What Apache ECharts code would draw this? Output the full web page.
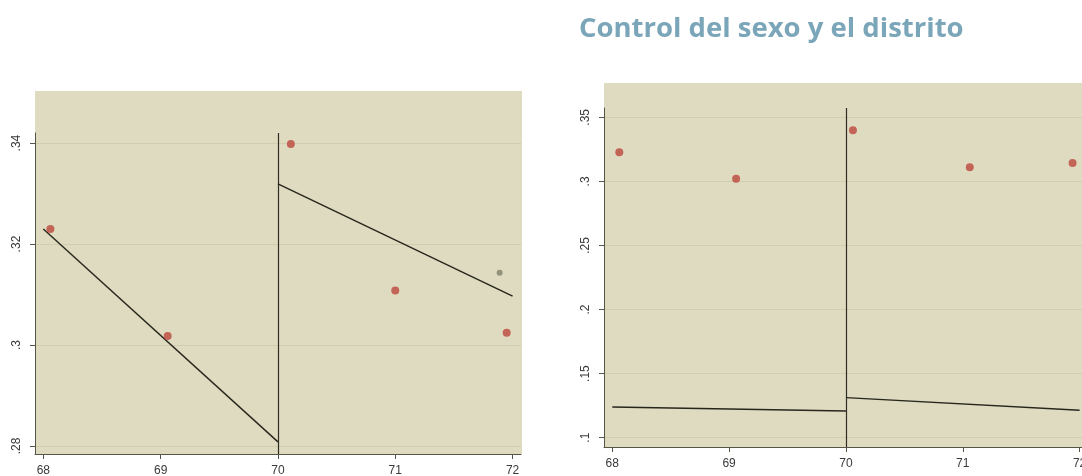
<!DOCTYPE html>
<html>
<head>
<meta charset="utf-8">
<script src="https://cdn.jsdelivr.net/npm/echarts@6/dist/echarts.min.js"></script>
<style>
  html, body { margin: 0; padding: 0; background: #ffffff; }
  #chart { width: 1082px; height: 476px; }
</style>
</head>
<body>
<div id="chart"></div>
<script>
// Age ticks shared by both panels
const xTicks = [68, 69, 70, 71, 72];
const cutoff = 70;

// Panel 1: unadjusted
const leftYTicks = [0.28, 0.30, 0.32, 0.34];
const leftPoints = [[68.06, 0.3230], [69.06, 0.3018], [70.11, 0.3398], [71.0, 0.3108], [71.95, 0.3024]];
const leftExtraPoint = [[71.89, 0.3143]];
const leftFitBefore = [[68, 0.3230], [70, 0.2808]];
const leftFitAfter = [[70, 0.3319], [72, 0.3097]];

// Panel 2: controlling for sex and district
const rightTitle = 'Control del sexo y el distrito';
const rightYTicks = [0.10, 0.15, 0.20, 0.25, 0.30, 0.35];
const rightPoints = [[68.06, 0.3227], [69.06, 0.3021], [70.06, 0.3399], [71.06, 0.3110], [71.94, 0.3143]];
const rightFitBefore = [[68, 0.1239], [70, 0.1208]];
const rightFitAfter = [[70, 0.1312], [72, 0.1214]];

const plotBg = '#dfdbc0';
const gridColor = '#d2cdae';
const axisColor = '#555548';
const labelColor = '#3a3a3a';
const dotColor = '#c0584a';
const fitColor = '#26261c';
const fontFamily = '"Liberation Sans", Arial, sans-serif';

const fmt = v => String(+(+v).toFixed(2)).replace(/^0\./, '.');

function makeX(gridIndex) {
  return {
    type: 'value', gridIndex,
    min: 67.929, max: 72.072,
    axisLine: { show: true, lineStyle: { color: axisColor, width: 1 } },
    axisTick: { show: true, length: 5, customValues: xTicks, lineStyle: { color: axisColor } },
    axisLabel: { customValues: xTicks, margin: 11, color: labelColor, fontSize: 12, fontFamily, formatter: v => String(v) },
    splitLine: { show: false }
  };
}

function makeY(gridIndex, min, max, ticks) {
  return {
    type: 'value', gridIndex, min, max,
    axisLine: { show: true, lineStyle: { color: axisColor, width: 1 } },
    axisTick: { show: true, length: 5, customValues: ticks, lineStyle: { color: axisColor } },
    axisLabel: { customValues: ticks, rotate: 90, margin: 12, color: labelColor, fontSize: 12, fontFamily, formatter: fmt },
    splitLine: { show: true, lineStyle: { color: gridColor, width: 1 } }
  };
}

function fitLine(data, xi, yi) {
  return {
    type: 'line', xAxisIndex: xi, yAxisIndex: yi, data,
    symbol: 'none', lineStyle: { color: fitColor, width: 1.4 }, z: 3, silent: true
  };
}

function dots(data, xi, yi, color, size) {
  return {
    type: 'scatter', xAxisIndex: xi, yAxisIndex: yi, data,
    symbolSize: size, itemStyle: { color, opacity: 0.9 }, z: 4, silent: true
  };
}

function cutoffLine(xi, yi) {
  return {
    type: 'line', xAxisIndex: xi, yAxisIndex: yi, data: [],
    markLine: {
      silent: true, symbol: 'none', label: { show: false },
      lineStyle: { color: '#2e2e26', width: 1.2, type: 'solid' },
      data: [{ xAxis: cutoff }]
    }
  };
}

const chart = echarts.init(document.getElementById('chart'), null, { renderer: 'canvas' });
chart.setOption({
  animation: false,
  backgroundColor: '#ffffff',
  title: {
    text: rightTitle, left: 574, top: 10,
    textStyle: { color: '#7ba6b9', fontSize: 27.5, fontWeight: 'bold', fontFamily: '"Open Sans", sans-serif' }
  },
  graphic: [
    { type: 'rect', z: -10, shape: { x: 35, y: 91, width: 487, height: 363 }, style: { fill: plotBg } },
    { type: 'rect', z: -10, shape: { x: 604, y: 83, width: 478, height: 364 }, style: { fill: plotBg } }
  ],
  grid: [
    { left: 35, top: 133, width: 486, height: 321, outerBoundsMode: 'none', containLabel: false },
    { left: 604, top: 108, width: 484, height: 339, outerBoundsMode: 'none', containLabel: false }
  ],
  xAxis: [makeX(0), makeX(1)],
  yAxis: [
    makeY(0, 0.2784, 0.342, leftYTicks),
    makeY(1, 0.0927, 0.3573, rightYTicks)
  ],
  series: [
    cutoffLine(0, 0),
    fitLine(leftFitBefore, 0, 0),
    fitLine(leftFitAfter, 0, 0),
    dots(leftPoints, 0, 0, dotColor, 8),
    dots(leftExtraPoint, 0, 0, '#8b8a72', 6),
    cutoffLine(1, 1),
    fitLine(rightFitBefore, 1, 1),
    fitLine(rightFitAfter, 1, 1),
    dots(rightPoints, 1, 1, dotColor, 8)
  ]
});
</script>
</body>
</html>
